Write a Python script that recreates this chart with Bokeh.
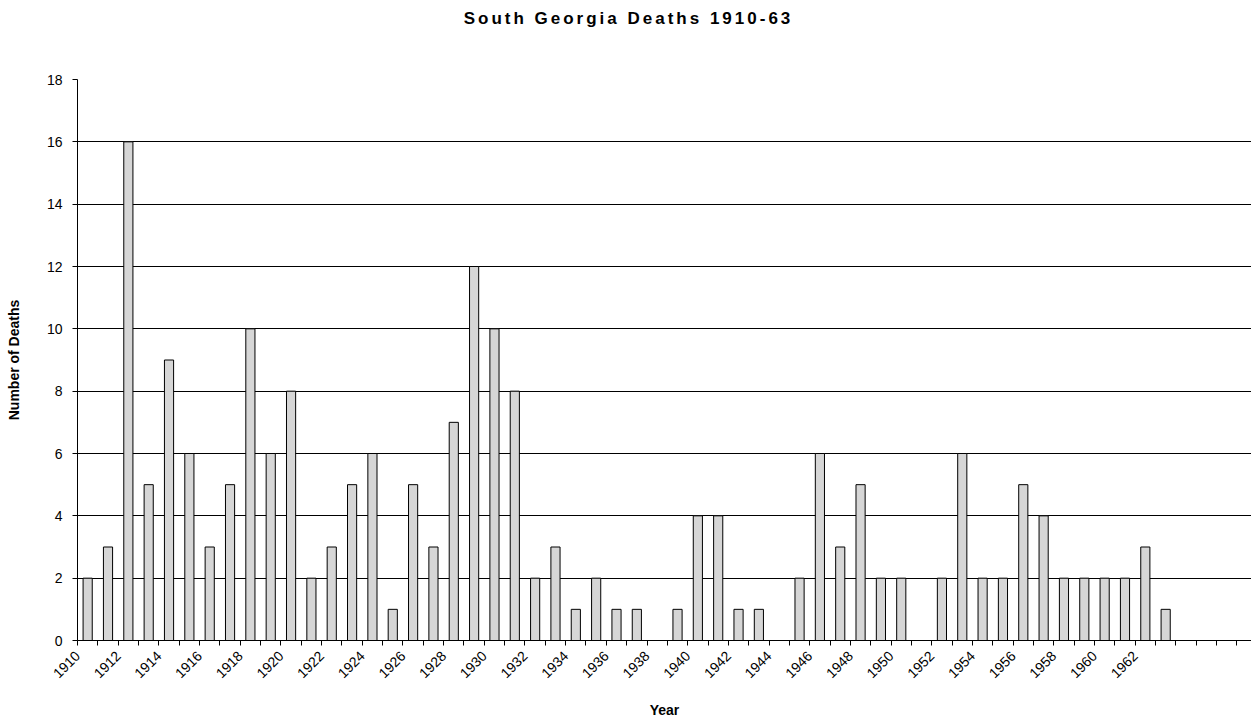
import math

from bokeh.plotting import figure
from bokeh.layouts import column
from bokeh.models import Div, FixedTicker, Range1d
from bokeh.embed import file_html
from bokeh.resources import INLINE

# ---- data -------------------------------------------------------------
title_text = "South Georgia Deaths 1910-63"
x_title = "Year"
y_title = "Number of Deaths"

years = list(range(1910, 1964))
deaths = [
    2, 3, 16, 5, 9, 6, 3, 5, 10, 6,      # 1910-1919
    8, 2, 3, 5, 6, 1, 5, 3, 7, 12,       # 1920-1929
    10, 8, 2, 3, 1, 2, 1, 1, 0, 1,       # 1930-1939
    4, 4, 1, 1, 0, 2, 6, 3, 5, 2,        # 1940-1949
    2, 0, 2, 6, 2, 2, 5, 4, 2, 2,        # 1950-1959
    2, 2, 3, 1,                          # 1960-1963
]

# category slots on the axis (the axis runs a few empty years past the data)
axis_years = list(range(1910, 1968))
tick_labels = [str(y) for y in range(1910, 1963, 2)]
y_ticks = list(range(0, 19, 2))

# ---- styling ----------------------------------------------------------
FONT = "Liberation Sans"
W, H = 1251, 720
TITLE_H = 40
BAR_FILL = "#d6d6d6"

title = Div(
    text=title_text,
    width=W,
    height=TITLE_H,
    margin=0,
    styles={
        "font-family": FONT,
        "font-weight": "bold",
        "font-size": "17px",
        "letter-spacing": "3px",
        "text-align": "center",
        "line-height": "38px",
        "color": "#000000",
        "padding-left": "6px",
        "box-sizing": "border-box",
    },
)

slot_start = axis_years[0] - 0.5
p = figure(
    width=W,
    height=H - TITLE_H,
    output_backend="svg",
    toolbar_location=None,
    x_range=Range1d(slot_start, slot_start + 57.72),
    y_range=Range1d(0, 18),
    margin=0,
)
p.min_border_left = 77
p.min_border_right = 0
p.min_border_top = 39
p.min_border_bottom = 78
p.outline_line_color = None
p.background_fill_color = "white"
p.border_fill_color = "white"

p.vbar(x=years, top=deaths, width=0.45, fill_color=BAR_FILL,
       line_color="black", line_width=1)

# category boundaries carry the tick marks; every other one is labelled
boundaries = [y - 0.5 for y in axis_years]
overrides = {b: (str(y) if str(y) in tick_labels else "")
             for b, y in zip(boundaries, axis_years)}
p.xaxis.ticker = FixedTicker(ticks=boundaries)
p.xaxis.major_label_overrides = overrides
p.xaxis.major_label_orientation = math.pi / 4
p.xgrid.visible = False

p.yaxis.ticker = FixedTicker(ticks=y_ticks)
p.ygrid.ticker = FixedTicker(ticks=y_ticks)
p.ygrid.grid_line_color = "black"
p.ygrid.grid_line_width = 1

for ax in (p.xaxis, p.yaxis):
    ax.axis_line_color = "black"
    ax.axis_line_width = 1
    ax.major_tick_line_color = "black"
    ax.major_tick_out = 5
    ax.major_tick_in = 0
    ax.minor_tick_line_color = None
    ax.major_label_text_font = FONT
    ax.major_label_text_font_size = "14px"
    ax.major_label_text_color = "black"
    ax.axis_label_text_font = FONT
    ax.axis_label_text_font_size = "14px"
    ax.axis_label_text_font_style = "bold"
    ax.axis_label_text_color = "black"

p.xaxis.axis_label = x_title
p.xaxis.major_label_standoff = 8
p.xaxis.axis_label_standoff = 16

p.yaxis.axis_label = y_title
p.yaxis.major_label_standoff = 10
p.yaxis.axis_label_standoff = 22

layout = column(title, p, spacing=0, margin=0)

open("out.html", "w").write(file_html(layout, INLINE))
